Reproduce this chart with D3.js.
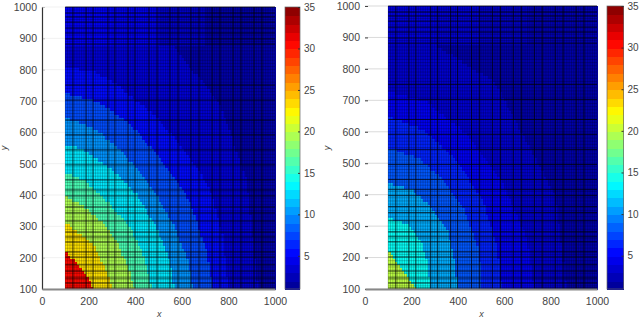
<!DOCTYPE html>
<html>
<head>
<meta charset="utf-8">
<script src="https://cdn.jsdelivr.net/npm/d3@7"></script>
<style>
  html, body { margin: 0; padding: 0; background: #fff; }
  svg { display: block; }
  text { font-family: "Liberation Sans", Arial, sans-serif; fill: #444; }
</style>
</head>
<body>
<div id="chart"></div>
<script>
// Values
const xTicks = [0, 200, 400, 600, 800, 1000];
const yTicks = [100, 200, 300, 400, 500, 600, 700, 800, 900, 1000];
const colorTicks = [5, 10, 15, 20, 25, 30, 35];
const colorLevels = d3.range(1, 35);

// Band value and its outer edge [x, y], outermost first
const leftLevels = [3.6, 5.6, 7.8, 10.2, 13, 16.2, 19.5, 23.2, 30.5];
const leftEdges = [
  [[100, 880], [560, 880], [760, 700], [880, 450], [930, 100]],
  [[100, 812], [220, 799], [320, 756], [478, 661], [606, 554], [720, 427], [778, 267], [800, 100]],
  [[100, 730], [235, 703], [378, 629], [506, 522], [635, 384], [706, 224], [735, 100]],
  [[100, 650], [220, 618], [335, 549], [463, 437], [563, 310], [628, 193], [649, 100]],
  [[100, 565], [177, 549], [292, 490], [406, 405], [492, 299], [549, 193], [570, 100]],
  [[100, 475], [192, 443], [292, 373], [378, 299], [435, 214], [470, 100]],
  [[100, 400], [184, 363], [263, 310], [320, 256], [370, 171], [399, 100]],
  [[100, 315], [163, 279], [219, 247], [262, 183], [305, 103], [310, 100]],
  [[100, 226], [167, 167], [228, 100]]
];
const rightLevels = [3.4, 4.8, 6.4, 8.2, 11, 14, 20];
const rightEdges = [
  [[100, 880], [300, 880], [560, 760], [820, 400], [870, 100]],
  [[100, 730], [260, 700], [450, 590], [600, 430], [700, 260], [730, 100]],
  [[100, 650], [250, 610], [400, 510], [510, 380], [570, 240], [590, 100]],
  [[100, 555], [230, 520], [340, 450], [430, 350], [490, 230], [505, 100]],
  [[100, 440], [200, 420], [290, 360], [360, 280], [390, 190], [400, 100]],
  [[100, 330], [180, 310], [240, 260], [270, 190], [280, 100]],
  [[100, 220], [165, 161], [222, 100]]
];

// Top strip above y = 880, split along x
const stripEdges = [100, 300, 500, 700, 1000];
const leftStrip = [5, 4.6, 3.2, 2];
const rightStrip = [4, 3.6, 3, 2.4];

// Darker mesh lines
const heavyX = [133, 189, 219, 283, 313, 369, 399, 459, 494, 549, 584, 639, 674, 730, 764, 820, 854, 910, 944];
const heavyY = [1000, 981, 968, 952, 933, 917, 898, 882, 751, 703, 639, 592, 544, 496, 448, 416, 397, 362, 343, 317, 282, 266, 250, 218, 202, 177, 157, 135, 119, 103];

const width = 640, height = 321;
const jet = d3.scaleLinear()
  .domain([1, 5.25, 13.75, 22.25, 30.75, 35])
  .range(["#00008f", "#0000ff", "#00ffff", "#ffff00", "#ff0000", "#800000"])
  .clamp(true);

const svg = d3.select("#chart").append("svg")
  .attr("width", width)
  .attr("height", height);

function drawPanel(p) {
  const x = d3.scaleLinear().domain([0, 1000]).range([p.left, p.right]);
  const y = d3.scaleLinear().domain([100, 1000]).range([p.bottom, p.top]);
  const g = svg.append("g");

  // faint gridlines in the white gutter
  g.append("g").selectAll("line").data(yTicks).enter().append("line")
    .attr("x1", p.left).attr("x2", x(100))
    .attr("y1", d => y(d)).attr("y2", d => y(d))
    .attr("stroke", "#000").attr("stroke-opacity", p.gutter);

  // cells
  const polys = p.edges.map(e => e.concat([[100, 100], [0, 100], [0, e[0][1]]]));
  const cells = [];
  d3.range(100, 1000, 10).forEach(cx => {
    d3.range(100, 1000, 10).forEach(cy => {
      const pt = [cx + 5, cy + 5];
      let v = 2;
      if (cy >= 880) {
        v = p.strip[d3.bisectRight(stripEdges, pt[0]) - 1];
      } else {
        polys.forEach((poly, i) => {
          if (d3.polygonContains(poly, pt)) v = p.levels[i];
        });
      }
      cells.push({ cx, cy, v });
    });
  });
  g.append("g").attr("shape-rendering", "crispEdges")
    .selectAll("rect").data(cells).enter().append("rect")
    .attr("x", d => x(d.cx))
    .attr("y", d => y(d.cy + 10))
    .attr("width", d => x(d.cx + 10) - x(d.cx) + 1)
    .attr("height", d => y(d.cy) - y(d.cy + 10) + 1)
    .attr("fill", d => jet(d.v));

  // mesh
  const mesh = g.append("g").attr("stroke", "#000");
  mesh.selectAll(".mx").data(d3.range(100, 1001, 10)).enter().append("line")
    .attr("class", "mx")
    .attr("x1", d => x(d)).attr("x2", d => x(d))
    .attr("y1", p.top).attr("y2", p.bottom)
    .attr("stroke-width", 0.6).attr("stroke-opacity", 0.38);
  mesh.selectAll(".my").data(d3.range(100, 1001, 10)).enter().append("line")
    .attr("class", "my")
    .attr("x1", x(100)).attr("x2", p.right)
    .attr("y1", d => y(d)).attr("y2", d => y(d))
    .attr("stroke-width", 0.6).attr("stroke-opacity", 0.38);
  mesh.selectAll(".hx").data(heavyX).enter().append("line")
    .attr("class", "hx")
    .attr("x1", d => x(d)).attr("x2", d => x(d))
    .attr("y1", p.top).attr("y2", p.bottom)
    .attr("stroke-width", 1).attr("stroke-opacity", 0.7);
  mesh.selectAll(".hy").data(heavyY).enter().append("line")
    .attr("class", "hy")
    .attr("x1", x(100)).attr("x2", p.right)
    .attr("y1", d => y(d)).attr("y2", d => y(d))
    .attr("stroke-width", 1).attr("stroke-opacity", 0.7);

  // axes
  const yAxis = g.append("g")
    .attr("transform", `translate(${p.left},0)`)
    .call(d3.axisLeft(y).tickValues(yTicks).tickFormat(d3.format("d")).tickSize(0).tickPadding(5));
  yAxis.select(".domain").attr("stroke", p.axisColor).attr("stroke-width", p.axisWidth);
  yAxis.selectAll("text").attr("font-size", 10.5);
  yAxis.selectAll(".tick").append("line")
    .attr("x1", 0).attr("x2", 3).attr("stroke", "#444").attr("stroke-opacity", p.tickOpacity);

  const xAxis = g.append("g")
    .attr("transform", `translate(0,${p.bottom})`)
    .call(d3.axisBottom(x).tickValues(xTicks).tickFormat(d3.format("d")).tickSize(0).tickPadding(9));
  xAxis.select(".domain").attr("stroke", "#888").attr("stroke-width", 2);
  xAxis.selectAll("text").attr("font-size", 10.5);

  // axis titles
  g.append("text")
    .attr("x", (x(100) + p.right) / 2 - 11).attr("y", 317)
    .attr("text-anchor", "middle")
    .attr("font-style", "italic").attr("font-size", 9)
    .attr("font-family", "Liberation Serif")
    .text("x");
  g.append("text")
    .attr("transform", `translate(${p.left - 35},148) rotate(-90)`)
    .attr("text-anchor", "middle")
    .attr("font-style", "italic").attr("font-size", 9)
    .attr("font-family", "Liberation Serif")
    .text("y");

  // colorbar
  const c = d3.scaleLinear().domain([1, 35]).range([p.bottom, p.top]);
  const bar = g.append("g");
  bar.selectAll("rect").data(colorLevels).enter().append("rect")
    .attr("shape-rendering", "crispEdges")
    .attr("x", p.barLeft)
    .attr("y", d => c(d + 1))
    .attr("width", p.barRight - p.barLeft)
    .attr("height", d => c(d) - c(d + 1) + 1)
    .attr("fill", d => jet(d + 0.5));
  bar.append("rect")
    .attr("x", p.barLeft).attr("y", p.top)
    .attr("width", p.barRight - p.barLeft).attr("height", p.bottom - p.top)
    .attr("fill", "none").attr("stroke", "#666").attr("stroke-width", 0.7);
  const barAxis = g.append("g")
    .attr("transform", `translate(${p.barRight},0)`)
    .call(d3.axisRight(c).tickValues(colorTicks).tickSize(0).tickPadding(4));
  barAxis.select(".domain").remove();
  barAxis.selectAll("text").attr("font-size", 10);
  barAxis.selectAll(".tick").append("line")
    .attr("x1", 0).attr("x2", -2).attr("stroke", "#333");
}

drawPanel({
  left: 42, right: 275, top: 7, bottom: 289,
  barLeft: 285, barRight: 300,
  levels: leftLevels, edges: leftEdges, strip: leftStrip,
  gutter: 0.06, axisColor: "#333", axisWidth: 1.2, tickOpacity: 0.3
});
drawPanel({
  left: 365, right: 597, top: 6, bottom: 289,
  barLeft: 607, barRight: 623.5,
  levels: rightLevels, edges: rightEdges, strip: rightStrip,
  gutter: 0.15, axisColor: "none", axisWidth: 0, tickOpacity: 1
});
</script>
</body>
</html>
